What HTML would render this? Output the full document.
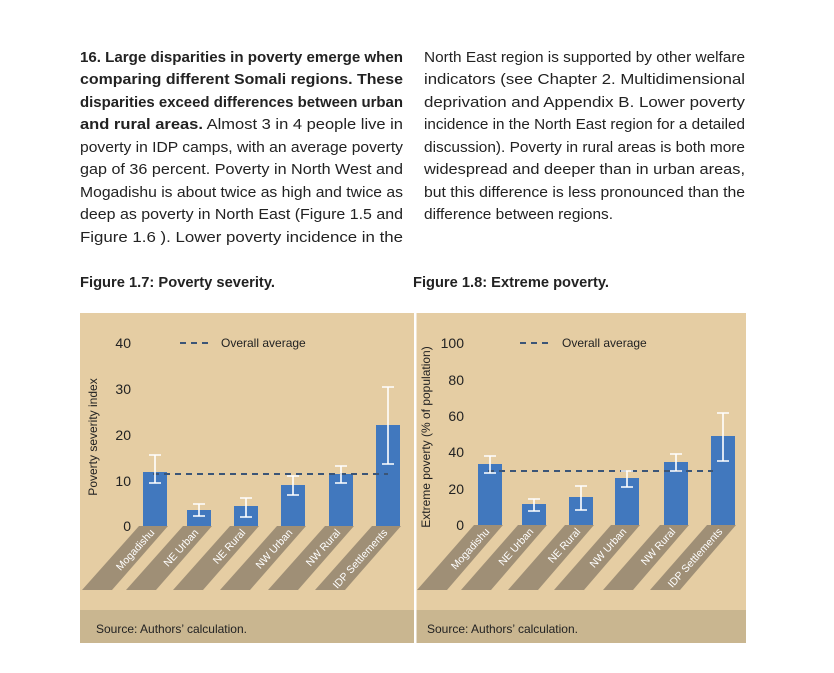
<!DOCTYPE html>
<html><head><meta charset="utf-8"><style>
html,body{margin:0;padding:0;background:#fff}
svg{display:block}
text{font-family:"Liberation Sans",sans-serif}
</style></head><body>
<svg width="834" height="673" viewBox="0 0 834 673" xmlns="http://www.w3.org/2000/svg">
<g font-size="14.5" fill="#222">
<text x="80" y="62" textLength="323" lengthAdjust="spacingAndGlyphs" font-weight="bold">16.  Large disparities in poverty emerge when</text>
<text x="80" y="84" textLength="323" lengthAdjust="spacingAndGlyphs" font-weight="bold">comparing different Somali regions. These</text>
<text x="80" y="107" textLength="323" lengthAdjust="spacingAndGlyphs" font-weight="bold">disparities exceed differences between urban</text>
<text x="80" y="129" textLength="323" lengthAdjust="spacingAndGlyphs"><tspan font-weight="bold">and rural areas.</tspan> Almost 3 in 4 people live in</text>
<text x="80" y="152" textLength="323" lengthAdjust="spacingAndGlyphs">poverty in IDP camps, with an average poverty</text>
<text x="80" y="174" textLength="323" lengthAdjust="spacingAndGlyphs">gap of 36 percent. Poverty in North West and</text>
<text x="80" y="197" textLength="323" lengthAdjust="spacingAndGlyphs">Mogadishu is about twice as high and twice as</text>
<text x="80" y="219" textLength="323" lengthAdjust="spacingAndGlyphs">deep as poverty in North East (Figure 1.5 and</text>
<text x="80" y="242" textLength="323" lengthAdjust="spacingAndGlyphs">Figure 1.6 ). Lower poverty incidence in the</text>

<text x="424" y="62" textLength="321" lengthAdjust="spacingAndGlyphs">North East region is supported by other welfare</text>
<text x="424" y="84" textLength="321" lengthAdjust="spacingAndGlyphs">indicators (see Chapter 2. Multidimensional</text>
<text x="424" y="107" textLength="321" lengthAdjust="spacingAndGlyphs">deprivation and Appendix B. Lower poverty</text>
<text x="424" y="129" textLength="321" lengthAdjust="spacingAndGlyphs">incidence in the North East region for a detailed</text>
<text x="424" y="152" textLength="321" lengthAdjust="spacingAndGlyphs">discussion). Poverty in rural areas is both more</text>
<text x="424" y="174" textLength="321" lengthAdjust="spacingAndGlyphs">widespread and deeper than in urban areas,</text>
<text x="424" y="197" textLength="321" lengthAdjust="spacingAndGlyphs">but this difference is less pronounced than the</text>
<text x="424" y="219" textLength="189" lengthAdjust="spacingAndGlyphs">difference between regions.</text>

<text x="80" y="287" font-weight="bold" textLength="195" lengthAdjust="spacingAndGlyphs">Figure 1.7: Poverty severity.</text>
<text x="413" y="287" font-weight="bold" textLength="196" lengthAdjust="spacingAndGlyphs">Figure 1.8: Extreme poverty.</text>
</g>

<!-- panels -->
<rect x="80" y="313" width="666" height="330" fill="#e5cda3"/>
<rect x="80" y="610" width="666" height="33" fill="#c9b690"/>
<rect x="414" y="313" width="2.5" height="330" fill="#fff"/>
<g font-size="12" fill="#222">
<text x="96" y="633">Source: Authors’ calculation.</text>
<text x="427" y="633">Source: Authors’ calculation.</text>
</g>

<!-- chart 1 -->
<g font-size="14" fill="#222" text-anchor="end">
<text x="131" y="348">40</text><text x="131" y="394">30</text><text x="131" y="440">20</text><text x="131" y="486">10</text><text x="131" y="531">0</text>
</g>
<text transform="translate(97,437) rotate(-90)" text-anchor="middle" font-size="12" fill="#222">Poverty severity index</text>
<line x1="180" y1="343" x2="212" y2="343" stroke="#3b5577" stroke-width="2" stroke-dasharray="6,5"/>
<text x="221" y="347" font-size="12" fill="#222">Overall average</text>
<g fill="#4178be">
<rect x="143" y="472" width="24" height="54"/>
<rect x="187" y="510" width="24" height="16"/>
<rect x="234" y="506" width="24" height="20"/>
<rect x="281" y="485" width="24" height="41"/>
<rect x="329" y="474" width="24" height="52"/>
<rect x="376" y="425" width="24" height="101"/>
</g>
<g fill="#9f8f76">
<polygon points="139,526 168,526 112,590 82,590"/>
<polygon points="183,526 212,526 156,590 126,590"/>
<polygon points="230,526 259,526 203,590 173,590"/>
<polygon points="277,526 306,526 250,590 220,590"/>
<polygon points="325,526 354,526 298,590 268,590"/>
<polygon points="372,526 401,526 345,590 315,590"/>
</g>
<g font-size="10.5" fill="#fff" text-anchor="end">
<text transform="translate(155,533) rotate(-48)">Mogadishu</text>
<text transform="translate(199,533) rotate(-48)">NE Urban</text>
<text transform="translate(246,533) rotate(-48)">NE Rural</text>
<text transform="translate(293,533) rotate(-48)">NW Urban</text>
<text transform="translate(341,533) rotate(-48)">NW Rural</text>
<text transform="translate(388,533) rotate(-48)">IDP Settlements</text>
</g>
<line x1="153" y1="474" x2="388" y2="474" stroke="#3b5577" stroke-width="2" stroke-dasharray="6,5"/>
<g stroke="#fff" stroke-width="1.6">
<path d="M155 455V483M149 455H161M149 483H161"/>
<path d="M199 504V516M193 504H205M193 516H205"/>
<path d="M246 498V517M240 498H252M240 517H252"/>
<path d="M293 476V495M287 476H299M287 495H299"/>
<path d="M341 466V483M335 466H347M335 483H347"/>
<path d="M388 387V464M382 387H394M382 464H394"/>
</g>

<!-- chart 2 -->
<g font-size="14" fill="#222" text-anchor="end">
<text x="464" y="348">100</text><text x="464" y="385">80</text><text x="464" y="421">60</text><text x="464" y="457">40</text><text x="464" y="494">20</text><text x="464" y="530">0</text>
</g>
<text transform="translate(430,437) rotate(-90)" text-anchor="middle" font-size="12" fill="#222">Extreme poverty (% of population)</text>
<line x1="520" y1="343" x2="553" y2="343" stroke="#3b5577" stroke-width="2" stroke-dasharray="6,5"/>
<text x="562" y="347" font-size="12" fill="#222">Overall average</text>
<g fill="#4178be">
<rect x="478" y="464" width="24" height="61"/>
<rect x="522" y="504" width="24" height="21"/>
<rect x="569" y="497" width="24" height="28"/>
<rect x="615" y="478" width="24" height="47"/>
<rect x="664" y="462" width="24" height="63"/>
<rect x="711" y="436" width="24" height="89"/>
</g>
<g fill="#9f8f76">
<polygon points="474,525 503,525 447,590 417,590"/>
<polygon points="518,525 547,525 491,590 461,590"/>
<polygon points="565,525 594,525 538,590 508,590"/>
<polygon points="611,525 640,525 584,590 554,590"/>
<polygon points="660,525 689,525 633,590 603,590"/>
<polygon points="707,525 736,525 680,590 650,590"/>
</g>
<g font-size="10.5" fill="#fff" text-anchor="end">
<text transform="translate(490,532) rotate(-48)">Mogadishu</text>
<text transform="translate(534,532) rotate(-48)">NE Urban</text>
<text transform="translate(581,532) rotate(-48)">NE Rural</text>
<text transform="translate(627,532) rotate(-48)">NW Urban</text>
<text transform="translate(676,532) rotate(-48)">NW Rural</text>
<text transform="translate(723,532) rotate(-48)">IDP Settlements</text>
</g>
<line x1="488" y1="471" x2="713" y2="471" stroke="#3b5577" stroke-width="2" stroke-dasharray="6,5"/>
<g stroke="#fff" stroke-width="1.6">
<path d="M490 456V473M484 456H496M484 473H496"/>
<path d="M534 499V511M528 499H540M528 511H540"/>
<path d="M581 486V510M575 486H587M575 510H587"/>
<path d="M627 471V487M621 471H633M621 487H633"/>
<path d="M676 454V471M670 454H682M670 471H682"/>
<path d="M723 413V461M717 413H729M717 461H729"/>
</g>
</svg>
</body></html>
